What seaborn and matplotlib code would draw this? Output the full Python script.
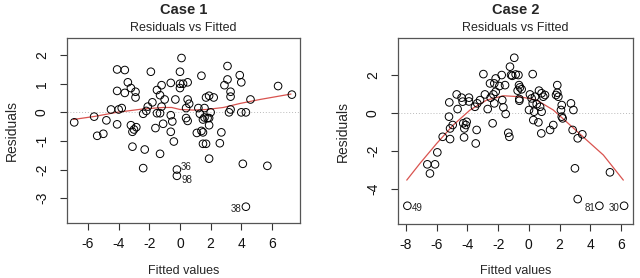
import matplotlib

matplotlib.use("Agg")

import matplotlib.pyplot as plt
import seaborn as sns
import pandas as pd

# Case 1: fitted values / residuals
case1_fitted = [
    -6.9, -5.6, -5.4, -5.0, -4.8, -4.5, -4.1, -3.6, -4.1, -4.1, -4.0, -3.8,
    -3.4, -3.6, -3.2, -2.9, -2.9, -3.2, -3.1, -3.0, -2.85, -3.1, -2.3, -2.4,
    -2.4, -2.2, -2.1, -1.9, -1.8, -1.6, -1.5, -1.5, -1.3, -1.3, -1.2, -1.2,
    -1.3, -1.1, -1.0, -0.6, -0.6, -0.5, -0.6, -0.3, -0.4, -0.2, -0.2, 0.0,
    0.1, 0.0, 0.2, 0.0, 0.5, 0.4, 0.5, 0.6, 0.4, 0.5, 1.1, 1.3, 1.2, 1.4,
    1.4, 1.5, 1.5, 1.7, 1.6, 1.5, 1.6, 1.7, 1.8, 1.9, 1.9, 2.0, 1.9, 1.9,
    2.2, 2.6, 2.7, 2.9, 3.1, 3.1, 3.3, 3.3, 3.3, 3.2, 3.9, 4.0, 4.0, 4.3,
    4.6, 4.1, 5.7, 4.3, 6.4, 7.3,
]
case1_resid = [
    -0.35, -0.15, -0.82, -0.75, -0.28, 0.1, 1.5, 1.48, 0.75, -0.42, 0.1, 0.15,
    1.05, 0.68, 0.85, 0.72, 0.52, -0.45, -0.68, -0.6, -0.52, -1.2, -1.3, -1.95,
    -0.05, 0.05, 0.2, 1.42, 0.35, -0.55, 0.78, -0.03, -0.03, 0.6, 0.95, 0.2,
    -1.45, -0.4, 0.45, 1.03, -0.1, -0.32, -0.68, 0.45, -1.02, -2.0, -2.22, 1.42,
    1.9, 1.0, 1.0, 0.85, 1.05, 0.15, 0.45, 0.3, -0.2, -0.3, -0.72, -0.05, 0.15, 1.28,
    -0.65, -0.7, -1.1, -1.1, 0.15, -0.25, -0.18, 0.52, -0.2, 0.58, -0.2, 0.0, -0.45, -1.62,
    0.52, -1.08, -0.7, 0.95, 1.62, 1.15, 0.72, 0.55, 0.1, 0.0, 1.3, 1.05, 0.0, 0.0,
    0.45, -1.8, -1.87, -3.3, 0.92, 0.62,
]
case1_smooth_x = [-6.96, -5.54, -4.13, -2.39, -1.09, -0.54, 0.0, 0.87, 1.74, 2.83, 3.91, 5.22, 7.24]
case1_smooth_y = [-0.25, -0.14, 0.0, 0.12, 0.17, 0.17, 0.10, 0.08, 0.10, 0.17, 0.31, 0.45, 0.64]
case1_labels = [("36", -0.2, -2.0, "right"), ("98", -0.2, -2.22, "right"), ("38", 4.3, -3.3, "left")]

# Case 2: fitted values / residuals
case2_fitted = [
    -7.91, -6.61, -6.44, -6.11, -5.96, -5.61, -5.18, -5.2, -5.13, -5.13, -4.96, -4.70,
    -4.64, -4.38, -4.31, -4.27, -4.2, -4.1, -4.22, -4.05, -3.9, -3.9, -3.51, -3.46,
    -3.4, -3.36, -3.18, -2.96, -2.86, -2.68, -2.53, -2.49, -2.36, -2.31, -2.25, -2.16,
    -2.16, -2.25, -1.92, -1.77, -1.73, -1.66, -1.55, -1.51, -1.34, -1.27, -1.23, -1.16,
    -1.08, -0.95, -0.86, -0.68, -0.73, -0.64, -0.58, -0.62, -0.47, -0.62, 0.07, 0.01,
    0.25, 0.18, 0.25, 0.34, 0.29, 0.4, 0.51, 0.66, 0.73, 0.62, 0.83, 0.83, 0.81, 0.94,
    1.05, 1.38, 1.59, 1.85, 1.77, 1.85, 1.92, 2.09, 2.14, 2.14, 2.2, 2.74, 2.9, 2.85,
    3.0, 3.18, 3.48, 3.18, 4.59, 5.28, 6.2,
]
case2_resid = [
    -4.88, -2.70, -3.18, -2.70, -2.07, -1.25, 0.56, -0.19, -0.81, -1.37, -0.63, 0.98,
    0.21, 0.81, 0.6, -0.54, -0.81, -0.63, -1.28, -0.46, 0.81, 0.61, 0.33, -1.6,
    -0.89, 0.51, 0.68, 2.05, 0.98, 0.21, 1.56, 0.81, -0.54, 0.98, 1.56, 1.82,
    1.12, 0.51, 1.42, 2.0, 0.68, 0.3, 1.47, -0.05, -1.04, -1.25, 2.44, 2.0,
    1.96, 2.91, 2.03, 2.0, 1.18, 1.47, 1.35, 0.74, 1.25, 0.65, 0.98, 0.16,
    2.05, 0.77, 0.51, 0.07, -0.37, 0.86, 0.47, 1.18, 0.33, -0.49, 1.04, 0.07, -1.07, 0.86,
    0.95, -0.89, -0.63, 1.47, 0.95, 1.07, 0.86, 0.16, -0.19, 0.42, -0.28, 0.51, 0.16, -0.89,
    -2.91, -1.33, -1.12, -4.53, -4.88, -3.12, -4.88,
]
case2_smooth_x = [-7.95, -7.09, -6.0, -4.92, -3.83, -2.75, -1.66, -0.58, 0.51, 1.59, 2.68, 3.76, 4.85, 6.15]
case2_smooth_y = [-3.53, -2.65, -1.6, -0.63, 0.16, 0.68, 0.91, 0.86, 0.68, 0.16, -0.63, -1.42, -2.21, -3.53]
case2_labels = [("49", -7.91, -4.88, "right"), ("81", 4.59, -4.88, "left"), ("30", 6.2, -4.88, "left")]

sns.set_style("white")
plt.rcParams["font.family"] = ["Liberation Sans", "DejaVu Sans"]

fig = plt.figure(figsize=(6.4, 2.78), dpi=100)
W, H = 640, 278

# small vertical nudges (points) so the close 36/98 labels stay apart
label_dy = {"36": 1.5, "98": -3.0}


def make_axes(l, r, t, b):
    return fig.add_axes([l / W, 1 - b / H, (r - l) / W, (b - t) / H])


panels = [
    dict(box=(67, 300, 38, 223), title="Case 1", fx=case1_fitted, ry=case1_resid,
         sx=case1_smooth_x, sy=case1_smooth_y, labels=case1_labels,
         xlim=(-7.37, 7.83), ylim=(-3.87, 2.6), xt=[-6, -4, -2, 0, 2, 4, 6],
         yt=[-3, -2, -1, 0, 1, 2], ylab_x=12),
    dict(box=(398, 633, 38, 224), title="Case 2", fx=case2_fitted, ry=case2_resid,
         sx=case2_smooth_x, sy=case2_smooth_y, labels=case2_labels,
         xlim=(-8.52, 6.78), ylim=(-5.84, 3.95), xt=[-8, -6, -4, -2, 0, 2, 4, 6],
         yt=[-4, -2, 0, 2], ylab_x=343),
]

for p in panels:
    l, r, t, b = p["box"]
    ax = make_axes(l, r, t, b)
    df = pd.DataFrame({"fitted": p["fx"], "resid": p["ry"]})
    ax.axhline(0, color="#bbbbbb", lw=0.7, ls=(0, (1, 2)), zorder=1)
    sns.scatterplot(data=df, x="fitted", y="resid", ax=ax, marker="o", s=30,
                    facecolor="none", edgecolor="black", linewidth=0.7, zorder=3)
    sm = pd.DataFrame({"x": p["sx"], "y": p["sy"]})
    sns.lineplot(data=sm, x="x", y="y", ax=ax, sort=False, color="#d9534f",
                 lw=0.9, zorder=2)
    for txt, x, y, side in p["labels"]:
        dy = label_dy.get(txt, -1.5)
        if side == "right":
            ax.annotate(txt, (x, y), xytext=(3, dy), textcoords="offset points",
                        ha="left", va="center", fontsize=7, color="#222222")
        else:
            ax.annotate(txt, (x, y), xytext=(-3, dy), textcoords="offset points",
                        ha="right", va="center", fontsize=7, color="#222222")
    ax.set_xlim(*p["xlim"])
    ax.set_ylim(*p["ylim"])
    ax.set_xticks(p["xt"])
    ax.set_yticks(p["yt"])
    ax.set_xticklabels([str(v) for v in p["xt"]])
    ax.set_yticklabels([str(v) for v in p["yt"]], rotation=90, va="center")
    ax.tick_params(axis="both", direction="out", length=5, width=0.8,
                   color="#333333", labelsize=10, labelcolor="#111111",
                   bottom=True, left=True)
    ax.tick_params(axis="x", pad=5)
    ax.tick_params(axis="y", pad=8)
    ax.set_xlabel("")
    ax.set_ylabel("")
    for s in ax.spines.values():
        s.set_color("#555555")
        s.set_linewidth(0.9)
    cx = (l + r) / 2
    fig.text(cx / W, 1 - 10 / H, p["title"], ha="center", va="center",
             fontsize=10.5, fontweight="bold")
    fig.text(cx / W, 1 - 28 / H, "Residuals vs Fitted", ha="center", va="center",
             fontsize=9)
    fig.text(p["ylab_x"] / W, 1 - ((t + b) / 2) / H, "Residuals", rotation=90,
             ha="center", va="center", fontsize=10)
    fig.text(cx / W, 1.5 / H, "Fitted values", ha="center", va="bottom",
             fontsize=9)

fig.savefig("out.png", dpi=100)
